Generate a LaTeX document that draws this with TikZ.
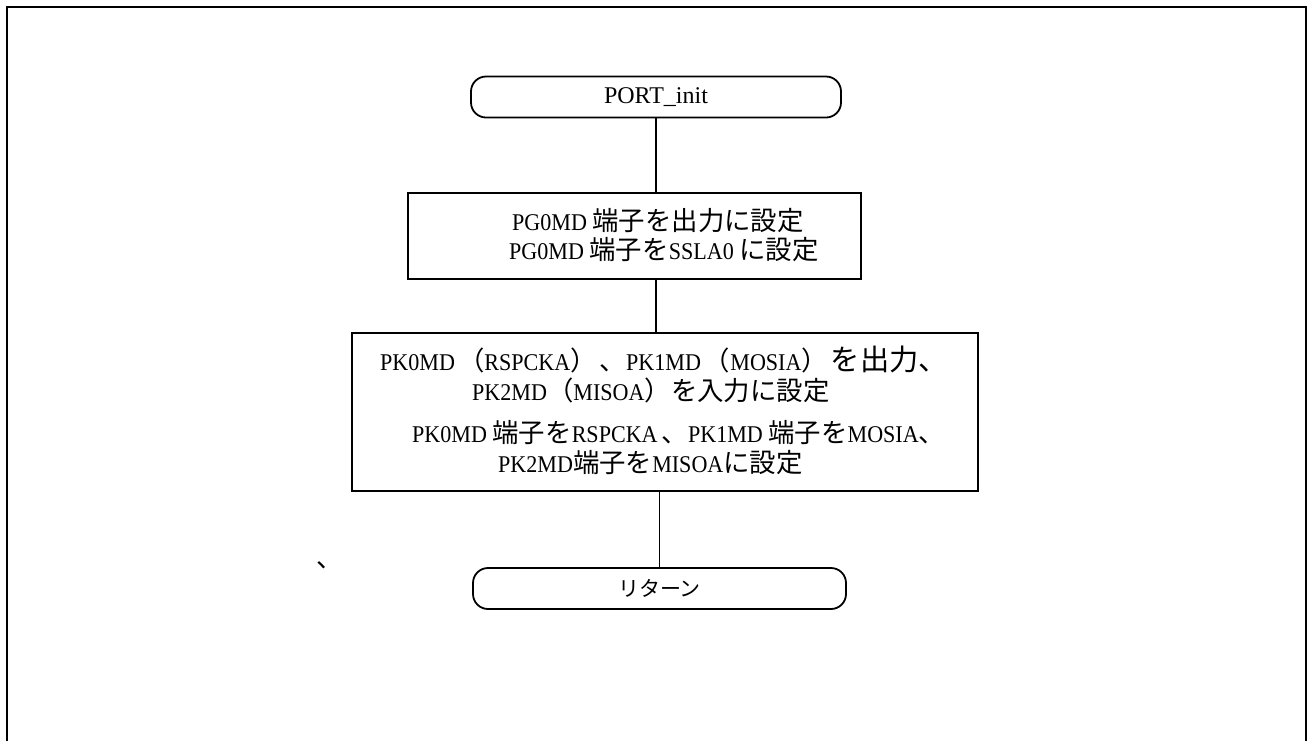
\documentclass[tikz,border=0pt]{standalone}
\usepackage{fontspec}
\setmainfont{Liberation Serif}
\newfontfamily\latn[FakeStretch=0.92]{Liberation Serif}
\newfontfamily\cjk[Scale=1.1]{Noto Sans CJK JP}
\newfontfamily\cjkbig[Scale=1.22]{Noto Sans CJK JP}
\newfontfamily\cjksans{Noto Sans CJK JP}
\newcommand\J[1]{{\cjk #1}}
\newcommand\JB[1]{{\cjkbig #1}}
\begin{document}
\begin{tikzpicture}[x=1pt,y=-1pt,
  term/.style={draw,line width=1.8pt,rounded corners=15pt,inner sep=0pt,minimum width=370pt,minimum height=41pt,font=\fontsize{24}{28}\selectfont},
  proc/.style={draw,line width=1.8pt,inner sep=0pt},
  txt/.style={anchor=base west,inner sep=0pt,font=\fontsize{24}{28}\latn},
  conn/.style={line width=1.4pt}]
\useasboundingbox (0,0) rectangle (1308,740);
\draw[line width=2pt] (7,760) -- (7,7) -- (1306,7) -- (1306,760);
\node[term] (start) at (656,97) {PORT\_init};
\node[proc,minimum width=453pt,minimum height=86pt] (b1) at (634.5,236) {};
\node[proc,minimum width=626pt,minimum height=158pt] (b2) at (665,412) {};
\node[term,minimum width=373pt,font=\fontsize{21}{24}\cjksans] (ret) at (659.5,588.5) {リターン};
\draw[conn] (start.south) -- (start.south |- b1.north);
\coordinate (c2) at (656,0);
\draw[conn] (b1.south -| c2) -- (b2.north -| c2);
\draw[conn] (ret.north) -- (ret.north |- b2.south);
\node[txt] (t1) at (512,230) {PG0MD \J{端子を出力に設定}};
\node[txt] (t2) at (509,259) {PG0MD \J{端子を}SSLA0 \J{に設定}};
\node[txt] (t3) at (380,370) {PK0MD\kern3pt\J{（}RSPCKA\J{）}\kern3pt\J{、}PK1MD\kern3pt\J{（}MOSIA\J{）}\kern3pt\JB{を出力、}};
\node[txt] (t4) at (472,400) {PK2MD\J{（}MISOA\J{）を入力に設定}};
\node[txt] (t5) at (412,442) {PK0MD \J{端子を}RSPCKA\,\J{、}PK1MD \J{端子を}MOSIA\J{、}};
\node[txt] (t6) at (498,472) {PK2MD\J{端子を}MISOA\J{に設定}};
\node[txt] (t7) at (316,567) {\J{、}};
\end{tikzpicture}
\end{document}
